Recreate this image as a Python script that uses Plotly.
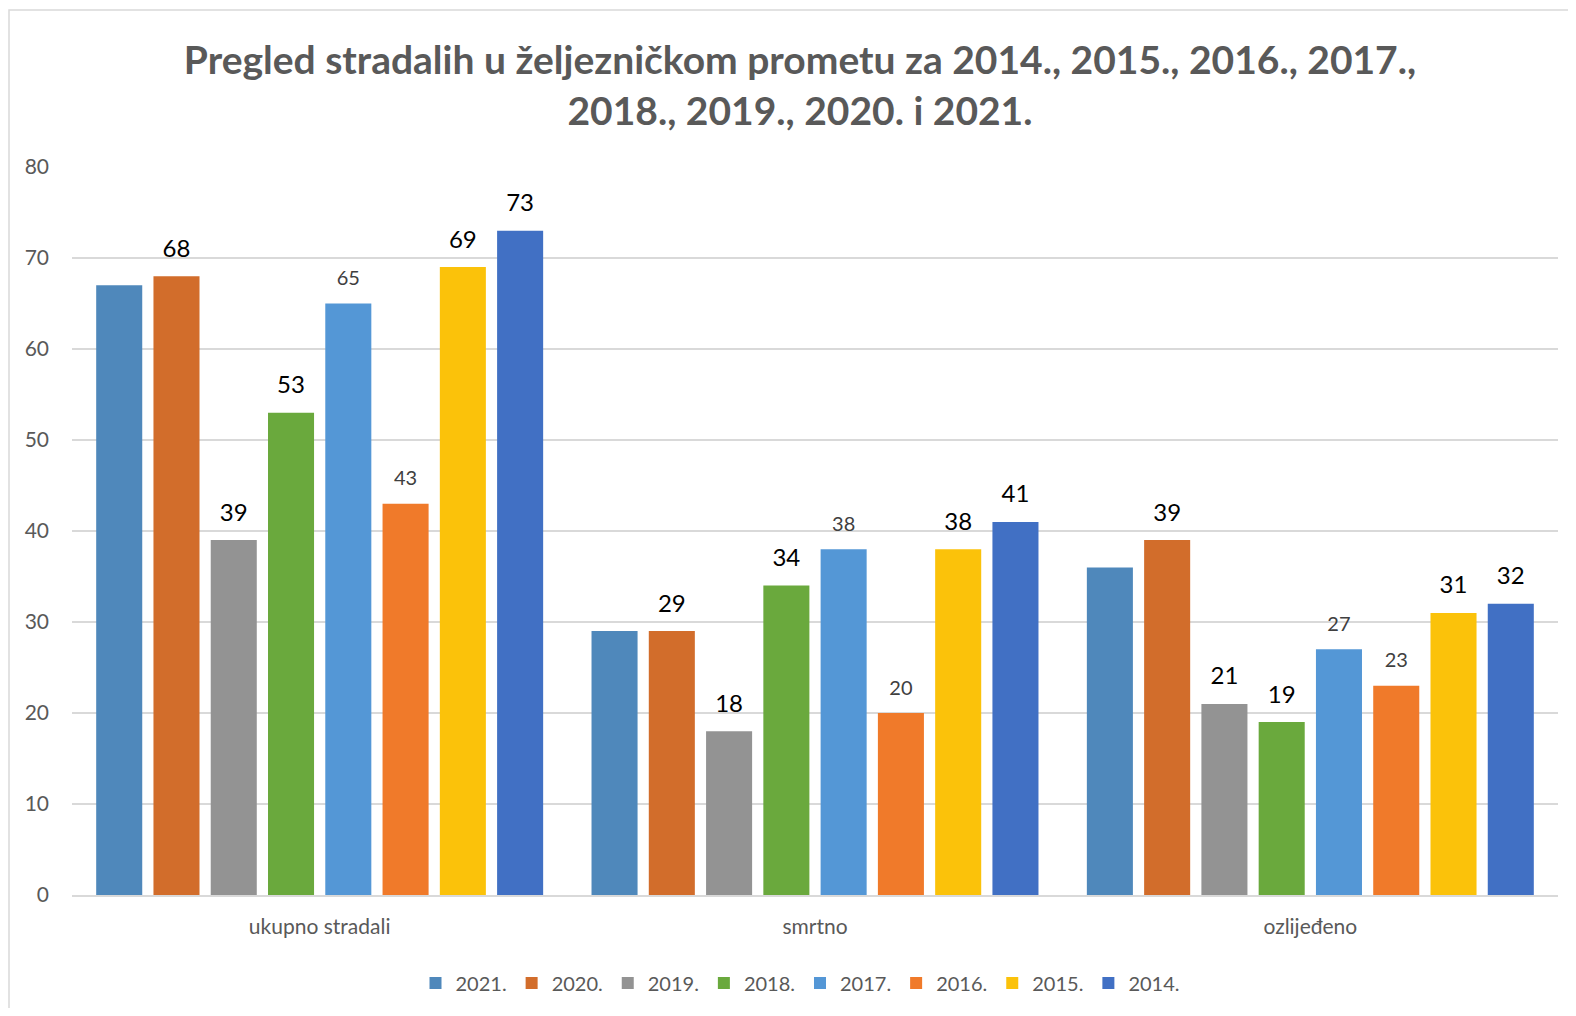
import plotly.graph_objects as go

categories = ["ukupno stradali", "smrtno", "ozlijeđeno"]
years = ["2021.", "2020.", "2019.", "2018.", "2017.", "2016.", "2015.", "2014."]
v2021 = [67, 29, 36]
v2020 = [68, 29, 39]
v2019 = [39, 18, 21]
v2018 = [53, 34, 19]
v2017 = [65, 38, 27]
v2016 = [43, 20, 23]
v2015 = [69, 38, 31]
v2014 = [73, 41, 32]
series_values = [v2021, v2020, v2019, v2018, v2017, v2016, v2015, v2014]

colors = ["#4f88bb", "#d26d2b", "#939393", "#6aa93d", "#5497d6", "#f07a2a", "#fbc20a", "#4170c4"]
label_styles = [None,
                dict(size=24, color="#000000"),
                dict(size=24, color="#000000"),
                dict(size=24, color="#000000"),
                dict(size=20, color="#404040"),
                dict(size=20, color="#404040"),
                dict(size=24, color="#000000"),
                dict(size=24, color="#000000")]

FONT = "Lato"
W, H = 1560, 1000
GAP = 0.075
fig = go.Figure()
for name, vals, col in zip(years, series_values, colors):
    fig.add_trace(go.Bar(
        x=categories, y=vals, name=name,
        marker=dict(color=col, line=dict(width=0)),
    ))
# data labels, grouped like the bars
for name, vals, ls in zip(years, series_values, label_styles):
    fig.add_trace(go.Scatter(
        x=categories, y=vals, name=name, showlegend=False, hoverinfo="skip",
        mode="markers+text" if ls else "markers",
        marker=dict(size=20, opacity=0),
        text=[str(v) for v in vals] if ls else None,
        textposition="top center",
        textfont=dict(family=FONT, **ls) if ls else None,
        cliponaxis=False,
    ))

fig.update_layout(
    width=W, height=H,
    paper_bgcolor="white", plot_bgcolor="white",
    font=dict(family=FONT, color="#595959", size=18),
    title=dict(
        text="Pregled stradalih u željezničkom prometu za 2014., 2015., 2016., 2017.,<br>2018., 2019., 2020. i 2021.",
        x=792 / W, xanchor="center", xref="container",
        y=1 - 66 / H, yanchor="middle", yref="container",
        font=dict(family=FONT, size=39, color="#595959", weight="bold"),
    ),
    margin=dict(l=64, r=10, t=159, b=113),
    barmode="group", bargap=GAP, bargroupgap=0.196,
    scattermode="group", scattergap=GAP,
    showlegend=True,
    legend=dict(orientation="h", x=792 / W, xanchor="center", xref="container",
                y=1 - 975 / H, yanchor="middle", yref="container",
                font=dict(family=FONT, size=20, color="#595959"),
                traceorder="normal", itemwidth=30),
    xaxis=dict(showgrid=False, showline=True, linecolor="#d9d9d9", linewidth=2,
               ticks="", tickfont=dict(family=FONT, size=21, color="#595959"),
               ticklabelstandoff=12),
    yaxis=dict(range=[0, 80], dtick=10, showgrid=True, gridcolor="#d9d9d9", gridwidth=1.5,
               zeroline=False, showline=False, ticks="",
               tickfont=dict(family=FONT, size=21, color="#595959"),
               ticklabelstandoff=22),
    shapes=[dict(type="rect", xref="paper", yref="paper",
                 x0=(1 - 64) / 1486, x1=(1580 - 64) / 1486,
                 y0=(887 - 1030) / 728, y1=(887 - 2) / 728,
                 line=dict(color="#d9d9d9", width=1.5), layer="below")],
)

fig.write_html("out.html")
